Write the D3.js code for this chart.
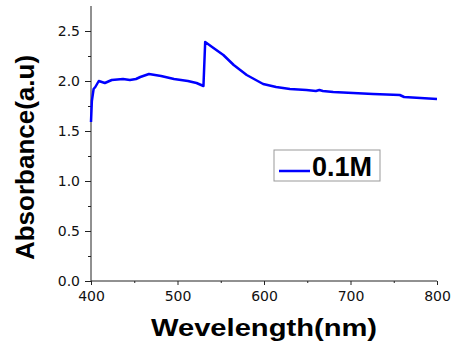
<!DOCTYPE html>
<html lang="en">
<head>
<meta charset="utf-8">
<title>Absorbance</title>
<style>
    html, body {
        margin: 0;
        background: white;
    }
    svg {
        font-family: 'Liberation Sans', Arial, sans-serif;
    }
    .axis path, .axis line {
        stroke: #222;
    }
    .axis text {
        font-family: 'DejaVu Sans', Verdana, sans-serif;
        font-size: 14px;
        fill: #111;
    }
</style>
</head>
<body>
<div id="vis"></div>
<script src="https://d3js.org/d3.v7.min.js"></script>
<script>
// wavelength (nm) and absorbance
var wavelength = [400, 401, 403, 405, 409, 416, 424, 437, 445, 452, 457, 467, 481, 496, 512, 522, 530, 532, 540, 553, 565, 580, 599, 614, 630, 649, 660, 664, 668, 680, 703, 726, 757, 762, 800];
var absorbance = [1.59, 1.80, 1.92, 1.94, 2.00, 1.98, 2.01, 2.02, 2.01, 2.02, 2.04, 2.07, 2.05, 2.02, 2.00, 1.98, 1.95, 2.39, 2.34, 2.26, 2.16, 2.06, 1.97, 1.94, 1.92, 1.91, 1.90, 1.91, 1.90, 1.89, 1.88, 1.87, 1.86, 1.84, 1.82];

var xTicks = [400, 500, 600, 700, 800];
var xMinor = [450, 550, 650, 750];
var yTicks = [0.0, 0.5, 1.0, 1.5, 2.0, 2.5];
var yMinor = [0.25, 0.75, 1.25, 1.75, 2.25];
var seriesName = '0.1M';

var width = 452;
var height = 347;

var margin = {
    top: 6,
    bottom: 66,
    left: 91,
    right: 15
};

var svg = d3.select('#vis')
    .append('svg')
    .attr('width', width)
    .attr('height', height);

var g = svg.append('g')
    .attr('transform', 'translate(' + margin.left + ',' + margin.top + ')');

var w = width - margin.left - margin.right;
var h = height - margin.top - margin.bottom;

var x_scale = d3.scaleLinear()
    .domain([400, 800])
    .range([0, w]);

// axis runs up to 2.75
var y_scale = d3.scaleLinear()
    .domain([0, 2.75])
    .range([h, 0]);

var x_axis = d3.axisBottom(x_scale)
    .tickValues(xTicks)
    .tickFormat(d3.format('d'))
    .tickSize(4)
    .tickPadding(6);

var y_axis = d3.axisLeft(y_scale)
    .tickValues(yTicks)
    .tickFormat(d3.format('.1f'))
    .tickSize(6)
    .tickPadding(5);

g.append('g')
    .attr('class', 'x axis')
    .attr('transform', 'translate(0,' + h + ')')
    .call(x_axis)
    .call(function(a) { a.select('.domain').attr('d', 'M0,0H' + w); });

g.append('g')
    .attr('class', 'x axis minor')
    .attr('transform', 'translate(0,' + h + ')')
    .call(d3.axisBottom(x_scale).tickValues(xMinor).tickSize(2).tickFormat(''))
    .call(function(a) { a.select('.domain').remove(); });

g.append('g')
    .attr('class', 'y axis')
    .call(y_axis)
    .call(function(a) { a.select('.domain').attr('d', 'M0,' + h + 'V0'); });

g.append('g')
    .attr('class', 'y axis minor')
    .call(d3.axisLeft(y_scale).tickValues(yMinor).tickSize(3).tickFormat(''))
    .call(function(a) { a.select('.domain').remove(); });

var data = wavelength.map(function(d, i) {
    return { x: d, y: absorbance[i] };
});

var line = d3.line()
    .x(function(d) { return x_scale(d.x); })
    .y(function(d) { return y_scale(d.y); });

g.append('path')
    .datum(data)
    .attr('fill', 'none')
    .attr('stroke', '#0000ff')
    .attr('stroke-width', 2.5)
    .attr('stroke-linejoin', 'round')
    .attr('d', line);

// legend
var legend = svg.append('g')
    .attr('transform', 'translate(274,150)');

legend.append('rect')
    .attr('width', 106)
    .attr('height', 31)
    .attr('fill', 'white')
    .attr('stroke', '#999');

legend.append('line')
    .attr('x1', 5)
    .attr('x2', 36)
    .attr('y1', 21)
    .attr('y2', 21)
    .attr('stroke', '#0000ff')
    .attr('stroke-width', 2.5);

legend.append('text')
    .attr('x', 38)
    .attr('y', 26)
    .attr('font-size', 27)
    .attr('font-weight', 'bold')
    .text(seriesName);

// axis titles
svg.append('text')
    .attr('transform', 'translate(264,336) scale(1.19,1)')
    .attr('text-anchor', 'middle')
    .attr('font-size', 24.5)
    .attr('font-weight', 'bold')
    .text('Wevelength(nm)');

svg.append('text')
    .attr('transform', 'translate(33.5,157.5) rotate(-90)')
    .attr('text-anchor', 'middle')
    .attr('font-size', 26)
    .attr('font-weight', 'bold')
    .text('Absorbance(a.u)');
</script>
</body>
</html>
